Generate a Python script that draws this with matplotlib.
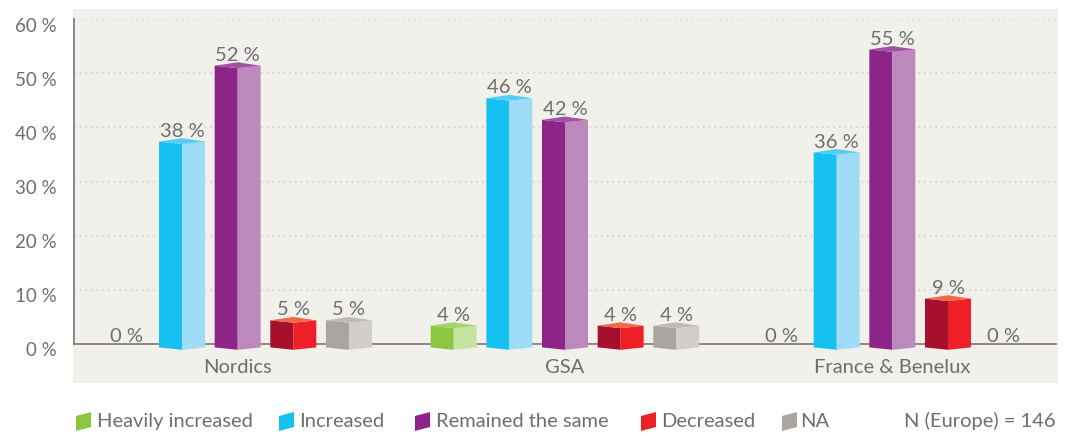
import matplotlib
matplotlib.use("Agg")
import matplotlib.pyplot as plt
from matplotlib.patches import Polygon, Rectangle

# ---- data -------------------------------------------------------------
categories = ["Nordics", "GSA", "France & Benelux"]
series_names = ["Heavily increased", "Increased", "Remained the same", "Decreased", "NA"]
heavily_increased = [0, 4, 0]
increased = [38, 46, 36]
remained_same = [52, 42, 55]
decreased = [5, 4, 9]
not_available = [5, 4, 0]
y_ticks = [0, 10, 20, 30, 40, 50, 60]
sample_note = "N (Europe) = 146"

series_values = [heavily_increased, increased, remained_same, decreased, not_available]

# front face, side face, top face
palette = [
    ("#8cc63f", "#c6e29f", "#a6d16b"),
    ("#14c1f0", "#9fdcf7", "#55cdf3"),
    ("#8d2589", "#bb89bc", "#a052a1"),
    ("#a6102d", "#ee1f27", "#f0674a"),
    ("#aba5a2", "#d2ceca", "#c0bab6"),
]
legend_colors = ["#8cc63f", "#14c1f0", "#8d2589", "#ee1f27", "#aba5a2"]

TEXT = "#6d6e70"
SPINE = "#8a7e7e"
PANEL = "#f1f0ea"
GRID = "#d3d1ca"

plt.rcParams["font.family"] = ["Lato", "DejaVu Sans"]

W, H = 1076, 435
fig = plt.figure(figsize=(W / 100, H / 100), dpi=100)
fig.patch.set_facecolor("white")


def fx(px):
    return px / W


def fy(py):
    return (H - py) / H


# light panel behind the plot and the category labels
fig.add_artist(Rectangle((fx(73), fy(384)), fx(1058) - fx(73), fy(10) - fy(384),
                         transform=fig.transFigure, facecolor=PANEL,
                         edgecolor="none", zorder=0))

ax = fig.add_axes([fx(74), fy(345), fx(1056) - fx(74), fy(20) - fy(345)])
ax.set_facecolor("none")
ax.set_xlim(-0.5, 2.5)
ax.set_ylim(0, 60)

for side in ("top", "right"):
    ax.spines[side].set_visible(False)
for side in ("left", "bottom"):
    ax.spines[side].set_color(SPINE)
    ax.spines[side].set_linewidth(1.3)

ax.set_yticks(y_ticks)
ax.set_yticklabels([])
ax.set_xticks(range(len(categories)))
ax.set_xticklabels([])
ax.tick_params(length=0)
ax.yaxis.grid(True, color=GRID, linestyle=(0, (1, 2.4)), linewidth=1.2)
ax.set_axisbelow(True)

# y tick labels
for t in y_ticks:
    ax.annotate(f"{t} %", xy=(0, t), xycoords=ax.get_yaxis_transform(),
                xytext=(-17, -11.5), textcoords="offset pixels",
                ha="right", va="baseline", fontsize=13.5, color=TEXT)

# category labels
for i, cat in enumerate(categories):
    ax.annotate(cat, xy=(i, 0), xycoords=ax.get_xaxis_transform(),
                xytext=(0, -28), textcoords="offset pixels",
                ha="center", va="baseline", fontsize=14.5, color=TEXT)

# 3D-looking boxes
pitch = 0.17
bar_w = 0.1405
ppu = ax.bbox.height / 60.0          # pixels per percentage point
d_corner = 3.4 / ppu
d_front = 5.8 / ppu

n = len(series_values)
for s, (vals, (c_front, c_side, c_top)) in enumerate(zip(series_values, palette)):
    offset = (s - (n - 1) / 2) * pitch
    for g, v in enumerate(vals):
        xc = g + offset
        if v > 0:
            xl, xm, xr = xc - bar_w / 2, xc, xc + bar_w / 2
            front = [(xl, v - d_corner), (xm, v - d_front), (xm, -d_front), (xl, -d_corner)]
            side_f = [(xm, v - d_front), (xr, v - d_corner), (xr, -d_corner), (xm, -d_front)]
            top = [(xl, v - d_corner), (xm, v), (xr, v - d_corner), (xm, v - d_front)]
            for pts, col in ((front, c_front), (side_f, c_side), (top, c_top)):
                ax.add_patch(Polygon(pts, closed=True, facecolor=col, edgecolor="none",
                                     clip_on=False, zorder=3))
        ax.annotate(f"{v} %", xy=(xc, v), xytext=(0, 2.5), textcoords="offset pixels",
                    ha="center", va="baseline", fontsize=14.5, color=TEXT, zorder=4)

# legend row
legend_icon_x = [76, 279, 415, 641, 782]
legend_text_x = [97, 299, 436, 661, 800]
base_y = 427
for name, col, ix, tx in zip(series_names, legend_colors, legend_icon_x, legend_text_x):
    icon = [(fx(ix), fy(417)), (fx(ix + 15), fy(413)), (fx(ix + 15), fy(428)), (fx(ix), fy(432))]
    fig.add_artist(Polygon(icon, closed=True, transform=fig.transFigure,
                           facecolor=col, edgecolor="none"))
    fig.text(fx(tx), fy(base_y), name, ha="left", va="baseline",
             fontsize=14.5, color=TEXT)
fig.text(fx(1056), fy(base_y), sample_note, ha="right", va="baseline",
         fontsize=14.5, color=TEXT)

fig.savefig("out.png", dpi=100, facecolor="white")
